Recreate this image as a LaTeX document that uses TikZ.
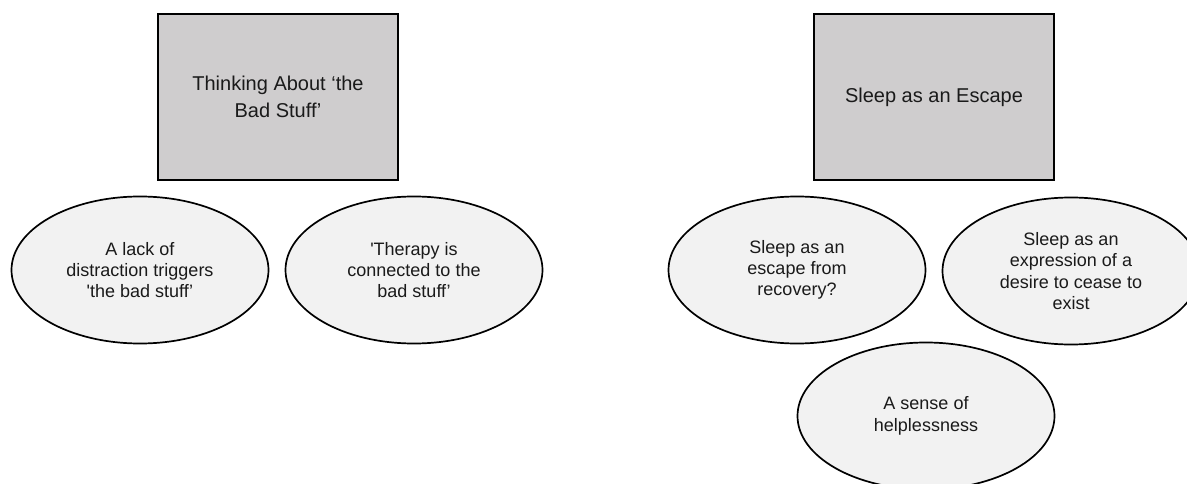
\documentclass[tikz,border=0pt]{standalone}
\usepackage{fontspec}
\setmainfont{Liberation Sans}
\usetikzlibrary{shapes.geometric}
\definecolor{boxgray}{HTML}{CFCDCE}
\definecolor{ellgray}{HTML}{F2F2F2}
\definecolor{inkcol}{HTML}{1A1A1A}
\begin{document}
\begin{tikzpicture}[x=1pt,y=-1pt,
  topicbox/.style={draw=black, line width=2.2pt, fill=boxgray, minimum width=240pt,
    minimum height=166pt, inner sep=0pt, align=center, text=inkcol,
    font=\fontsize{20}{27}\selectfont},
  themeell/.style={ellipse, draw=black, line width=1.7pt, fill=ellgray, minimum width=257pt,
    minimum height=147pt, inner sep=0pt, align=center, text=inkcol,
    font=\fontsize{18}{21.3}\selectfont}]
\clip (0,0) rectangle (1187,484);
\fill[white] (0,0) rectangle (1187,484);

\node[topicbox] (thinking) at (278,97) {Thinking About `the\\Bad Stuff'};
\node[topicbox] (sleep) at (934,97) {Sleep as an Escape};

\node[themeell] (lack) at (140,270) {A lack of\\distraction triggers\\\textquotesingle the bad stuff'};
\node[themeell] (therapy) at (414,270) {\textquotesingle Therapy is\\connected to the\\bad stuff'};
\node[themeell] (recovery) at (797,270) {Sleep as an\\escape from\\recovery?};
\node[themeell] (cease) at (1071,271) {Sleep as an\\expression of a\\desire to cease to\\exist};
\node[themeell] (helpless) at (926,416) {A sense of\\helplessness};
\end{tikzpicture}
\end{document}
